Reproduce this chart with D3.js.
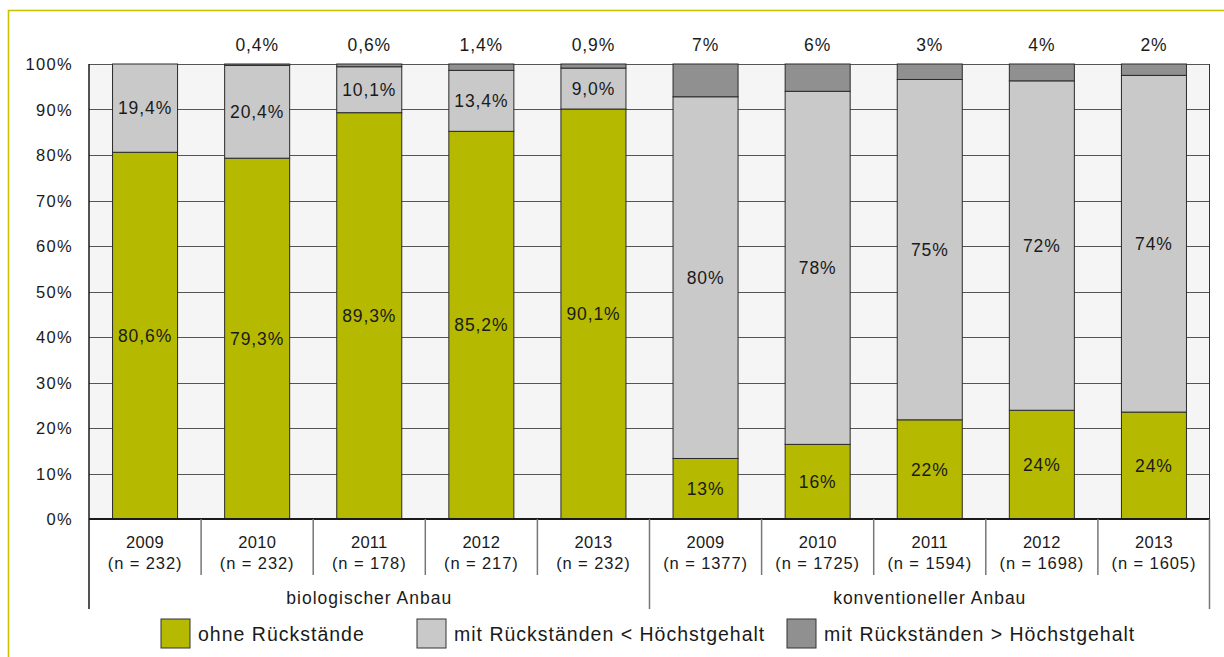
<!DOCTYPE html>
<html>
<head>
<meta charset="utf-8">
<script src="https://cdn.jsdelivr.net/npm/d3@7"></script>
<style>
  body { margin: 0; background: #fff; }
  svg { display: block; }
  text { font-family: "Liberation Sans", Arial, sans-serif; fill: #1a1a1a; }
  .num { font-size: 16.5px; letter-spacing: 0.3px; }
  .nlab { font-size: 16.5px; letter-spacing: 0.9px; }
  .word { font-size: 17.5px; letter-spacing: 1px; }
  .pct { font-size: 17.5px; letter-spacing: 0.9px; }
  .legend text { font-size: 19.5px; letter-spacing: 1px; }
</style>
</head>
<body>
<div id="chart"></div>
<script>
const years = ['2009', '2010', '2011', '2012', '2013', '2009', '2010', '2011', '2012', '2013'];
const sampleSizes = [232, 232, 178, 217, 232, 1377, 1725, 1594, 1698, 1605];
const groups = ['biologischer Anbau', 'konventioneller Anbau'];
const groupSize = 5;

// shares in percent
const ohneRueck = [80.6, 79.3, 89.3, 85.2, 90.1, 13.3, 16.4, 21.8, 23.9, 23.5];
const unterHG = [19.4, 20.4, 10.1, 13.4, 9.0, 79.5, 77.6, 74.8, 72.4, 74.0];
const ueberHG = [0, 0.4, 0.6, 1.4, 0.9, 7.2, 6.0, 3.4, 3.7, 2.5];

// printed labels
const ohneLabels = ['80,6%', '79,3%', '89,3%', '85,2%', '90,1%', '13%', '16%', '22%', '24%', '24%'];
const unterLabels = ['19,4%', '20,4%', '10,1%', '13,4%', '9,0%', '80%', '78%', '75%', '72%', '74%'];
const ueberLabels = ['', '0,4%', '0,6%', '1,4%', '0,9%', '7%', '6%', '3%', '4%', '2%'];

const yTicks = [0, 10, 20, 30, 40, 50, 60, 70, 80, 90, 100];
const legendLabels = ['ohne Rückstände', 'mit Rückständen < Höchstgehalt', 'mit Rückständen > Höchstgehalt'];

const COLORS = ['#b5b900', '#c9c9c9', '#909090'];
const W = 1224, H = 657;
const pad = { l: 89, t: 64, r: 14, b: 138 };

const keys = ['ohne', 'unter', 'ueber'];
const rows = years.map((y, i) => ({
  id: i, ohne: ohneRueck[i], unter: unterHG[i], ueber: ueberHG[i],
}));
const labels = { ohne: ohneLabels, unter: unterLabels, ueber: ueberLabels };

const svg = d3.select('#chart').append('svg')
  .attr('width', W).attr('height', H);

// frame
svg.append('rect')
  .attr('x', 8.5).attr('y', 10.5)
  .attr('width', W + 20).attr('height', H + 20)
  .attr('fill', 'none')
  .attr('stroke', '#c8c300')
  .attr('stroke-width', 1.6);

const cw = W - pad.l - pad.r;
const ch = H - pad.t - pad.b;
const chart = svg.append('g').attr('transform', `translate(${pad.l}, ${pad.t})`);

const xCell = d3.scaleBand().domain(d3.range(years.length)).range([0, cw]).padding(0);
const x = d3.scaleBand().domain(d3.range(years.length)).range([0, cw])
  .paddingInner(0.42).paddingOuter(0.21);
const y = d3.scaleLinear().domain([0, 100]).range([ch, 0]);

chart.append('rect')
  .attr('width', cw).attr('height', ch)
  .attr('fill', '#f5f5f5');

// gridlines
chart.append('g')
  .selectAll('line')
  .data(yTicks)
  .join('line')
  .attr('x1', 0).attr('x2', cw)
  .attr('y1', d => Math.round(y(d)) + 0.5).attr('y2', d => Math.round(y(d)) + 0.5)
  .attr('stroke', '#555')
  .attr('stroke-width', 1);

chart.append('line')
  .attr('x1', cw - 0.5).attr('x2', cw - 0.5)
  .attr('y1', 0).attr('y2', ch)
  .attr('stroke', '#333').attr('stroke-width', 1);

const stack = d3.stack().keys(keys);
const series = stack(rows);

const layers = chart.selectAll('.layer')
  .data(series)
  .join('g')
  .classed('layer', true)
  .attr('fill', (d, i) => COLORS[i]);

layers.selectAll('rect')
  .data(d => d.filter(s => s[1] - s[0] > 0))
  .join('rect')
  .attr('x', d => x(d.data.id))
  .attr('width', x.bandwidth())
  .attr('y', d => y(Math.min(100, d[1])))
  .attr('height', d => y(d[0]) - y(Math.min(100, d[1])))
  .attr('stroke', '#2a2a2a')
  .attr('stroke-width', 1);

// labels inside bars (first two layers), above plot (third)
series.forEach(s => {
  const key = s.key;
  chart.append('g')
    .selectAll('text')
    .data(s.filter(d => labels[key][d.data.id] !== ''))
    .join('text')
    .classed('pct', true)
    .attr('x', d => x(d.data.id) + x.bandwidth() / 2)
    .attr('y', d => key === 'ueber' ? -19 : y((d[0] + d[1]) / 2))
    .attr('dy', '0.36em')
    .attr('text-anchor', 'middle')
    .text(d => labels[key][d.data.id]);
});

// y axis
const yAxis = chart.append('g')
  .call(d3.axisLeft(y).tickValues(yTicks).tickSize(0).tickPadding(16).tickFormat(d => d + '%'));
yAxis.select('.domain').remove();
yAxis.attr('font-family', null).attr('font-size', null);
yAxis.selectAll('.tick text')
  .attr('dy', '0.36em')
  .style('font-family', '"Liberation Sans", Arial, sans-serif')
  .style('font-size', '16.5px')
  .style('letter-spacing', '1.3px')
  .style('fill', '#1a1a1a');

chart.append('line')
  .attr('x1', 0).attr('x2', 0).attr('y1', 0).attr('y2', ch + 90)
  .attr('stroke', '#1a1a1a').attr('stroke-width', 1.5);

// x axis: category cells
chart.append('line')
  .attr('x1', 0).attr('x2', cw).attr('y1', ch).attr('y2', ch)
  .attr('stroke', '#1a1a1a').attr('stroke-width', 2);

const sepIdx = d3.range(1, years.length + 1);
chart.append('g')
  .selectAll('line')
  .data(sepIdx)
  .join('line')
  .attr('x1', i => i < years.length ? xCell(i) : cw - 0.5)
  .attr('x2', i => i < years.length ? xCell(i) : cw - 0.5)
  .attr('y1', ch)
  .attr('y2', i => i % groupSize === 0 ? ch + 90 : ch + 56)
  .attr('stroke', '#777')
  .attr('stroke-width', 1.5);

const xl = chart.append('g')
  .selectAll('g')
  .data(years)
  .join('g')
  .attr('transform', (d, i) => `translate(${xCell(i) + xCell.bandwidth() / 2}, ${ch})`);
xl.append('text').classed('num', true)
  .attr('y', 23).attr('dy', '0.36em').attr('text-anchor', 'middle')
  .text(d => d);
xl.append('text').classed('nlab', true)
  .attr('y', 44).attr('dy', '0.36em').attr('text-anchor', 'middle')
  .text((d, i) => `(n = ${sampleSizes[i]})`);

chart.append('g')
  .selectAll('text')
  .data(groups)
  .join('text')
  .classed('word', true)
  .attr('x', (d, i) => (xCell(i * groupSize) + (i + 1 < groups.length ? xCell((i + 1) * groupSize) : cw)) / 2)
  .attr('y', ch + 79)
  .attr('dy', '0.36em')
  .attr('text-anchor', 'middle')
  .text(d => d);

// legend
const legendX = [161, 417, 787];
const legend = svg.append('g').classed('legend', true)
  .selectAll('g')
  .data(legendLabels)
  .join('g')
  .attr('transform', (d, i) => `translate(${legendX[i]}, 619)`);
legend.append('rect')
  .attr('width', 29).attr('height', 29)
  .attr('fill', (d, i) => COLORS[i])
  .attr('stroke', '#333').attr('stroke-width', 1);
legend.append('text')
  .attr('x', 37).attr('y', 15).attr('dy', '0.36em')
  .text(d => d);
</script>
</body>
</html>
